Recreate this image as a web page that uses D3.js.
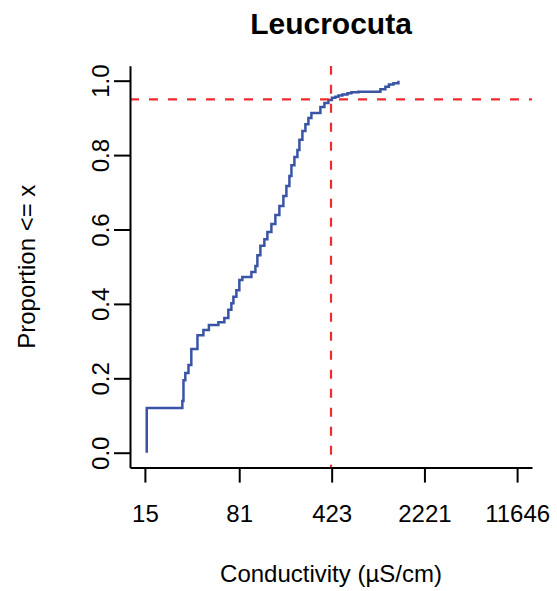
<!DOCTYPE html>
<html>
<head>
<meta charset="utf-8">
<script src="https://cdn.jsdelivr.net/npm/d3@7"></script>
<style>
  html, body { margin: 0; padding: 0; background: #fff; }
  svg text { font-family: "Liberation Sans", Arial, Helvetica, sans-serif; fill: #000; }
</style>
</head>
<body>
<svg id="chart" width="557" height="591"></svg>
<script>
// ---- Data ----
const title = "Leucrocuta";
const xLabel = "Conductivity (\u00B5S/cm)";
const yLabel = "Proportion <= x";
const xTickValues = [15, 81, 423, 2221, 11646];
const yTickValues = [0, 0.2, 0.4, 0.6, 0.8, 1.0];
const xRange = [15, 11646];
// ECDF step points: conductivity value and cumulative proportion reached at that value
const conductivity = [15.5, 15.5, 29.3, 29.9, 30.9, 32.7, 34.4, 38.4, 42.7, 47.1, 55.8, 62.1, 66.7, 70.4, 73.0, 77.0, 81.2, 85.7, 100.7, 108.2, 112.1, 118.3, 127.0, 134.0, 144.0, 154.6, 166.1, 178.4, 188.3, 198.7, 206.0, 217.3, 229.3, 237.6, 250.7, 264.5, 279.1, 294.4, 345.8, 371.5, 399.0, 424.8, 452.1, 477.1, 512.5, 560.6, 602.0, 682.3, 1011, 1105, 1177, 1276, 1395];
const proportion = [0, 0.120, 0.139, 0.195, 0.214, 0.236, 0.279, 0.316, 0.330, 0.343, 0.351, 0.362, 0.384, 0.402, 0.419, 0.437, 0.464, 0.472, 0.486, 0.502, 0.531, 0.556, 0.574, 0.593, 0.615, 0.639, 0.663, 0.690, 0.717, 0.744, 0.773, 0.795, 0.814, 0.841, 0.865, 0.883, 0.900, 0.913, 0.929, 0.940, 0.948, 0.954, 0.957, 0.960, 0.963, 0.966, 0.969, 0.970, 0.977, 0.984, 0.990, 0.993, 1.000];
const refProportion = 0.95;
const refConductivity = 418;

// ---- Layout ----
const svg = d3.select("#chart");
const plotLeft = 130, plotRight = 532, plotTop = 65.8, plotBottom = 467.6;

// R-style 4% extension on log scale
const lx0 = Math.log10(xRange[0]), lx1 = Math.log10(xRange[1]);
const ext = (lx1 - lx0) * 0.04;
const x = d3.scaleLog()
  .domain([Math.pow(10, lx0 - ext), Math.pow(10, lx1 + ext)])
  .range([plotLeft, plotRight]);
const y = d3.scaleLinear()
  .domain([-0.04, 1.04])
  .range([plotBottom, plotTop]);

// clip path for plot region
svg.append("defs").append("clipPath").attr("id", "clip")
  .append("rect").attr("x", plotLeft).attr("y", plotTop)
  .attr("width", plotRight - plotLeft).attr("height", plotBottom - plotTop);

// ECDF line
const pts = conductivity.map((c, i) => [c, proportion[i]]);
const line = d3.line()
  .x(d => x(d[0]))
  .y(d => y(d[1]))
  .curve(d3.curveStepAfter);
svg.append("path")
  .datum(pts)
  .attr("d", line)
  .attr("fill", "none")
  .attr("stroke", "#3A54A5")
  .attr("stroke-width", 2.5)
  .attr("clip-path", "url(#clip)");

// Reference lines
const g = svg.append("g").attr("clip-path", "url(#clip)");
g.append("line")
  .attr("x1", plotLeft).attr("x2", plotRight)
  .attr("y1", y(refProportion)).attr("y2", y(refProportion))
  .attr("stroke", "#EE2B30").attr("stroke-width", 2.2)
  .attr("stroke-dasharray", "9,10");
g.append("line")
  .attr("x1", x(refConductivity)).attr("x2", x(refConductivity))
  .attr("y1", plotTop).attr("y2", plotBottom)
  .attr("stroke", "#EE2B30").attr("stroke-width", 2.2)
  .attr("stroke-dasharray", "9,10");

// Axes
const xAxis = d3.axisBottom(x)
  .tickValues(xTickValues)
  .tickFormat(d3.format("d"))
  .tickSize(15)
  .tickSizeOuter(0)
  .tickPadding(22);
const xg = svg.append("g")
  .attr("transform", `translate(0,${plotBottom})`)
  .call(xAxis);
xg.select(".domain").attr("stroke", "#000").attr("stroke-width", 2);
xg.selectAll(".tick line").attr("stroke", "#000").attr("stroke-width", 2);
xg.selectAll(".tick text").style("font-size", "24px").attr("font-family", null);

const yAxis = d3.axisLeft(y)
  .tickValues(yTickValues)
  .tickFormat(d3.format(".1f"))
  .tickSize(16)
  .tickSizeOuter(0)
  .tickPadding(0);
const yg = svg.append("g")
  .attr("transform", `translate(${plotLeft},0)`)
  .call(yAxis);
yg.select(".domain").attr("stroke", "#000").attr("stroke-width", 2);
yg.selectAll(".tick line").attr("stroke", "#000").attr("stroke-width", 2);
yg.selectAll(".tick text")
  .style("font-size", "24px")
  .attr("font-family", null)
  .attr("x", 0).attr("dy", null)
  .attr("text-anchor", "middle")
  .attr("transform", "translate(-21,0) rotate(-90)");

// Title
svg.append("text")
  .attr("x", (plotLeft + plotRight) / 2)
  .attr("y", 34)
  .attr("text-anchor", "middle")
  .style("font-size", "30px")
  .style("font-weight", "bold")
  .text(title);

// X label
svg.append("text")
  .attr("x", (plotLeft + plotRight) / 2)
  .attr("y", 582)
  .attr("text-anchor", "middle")
  .style("font-size", "24px")
  .text(xLabel);

// Y label
svg.append("text")
  .attr("transform", `translate(35,${(plotTop + plotBottom) / 2}) rotate(-90)`)
  .attr("text-anchor", "middle")
  .style("font-size", "24px")
  .text(yLabel);
</script>
</body>
</html>
